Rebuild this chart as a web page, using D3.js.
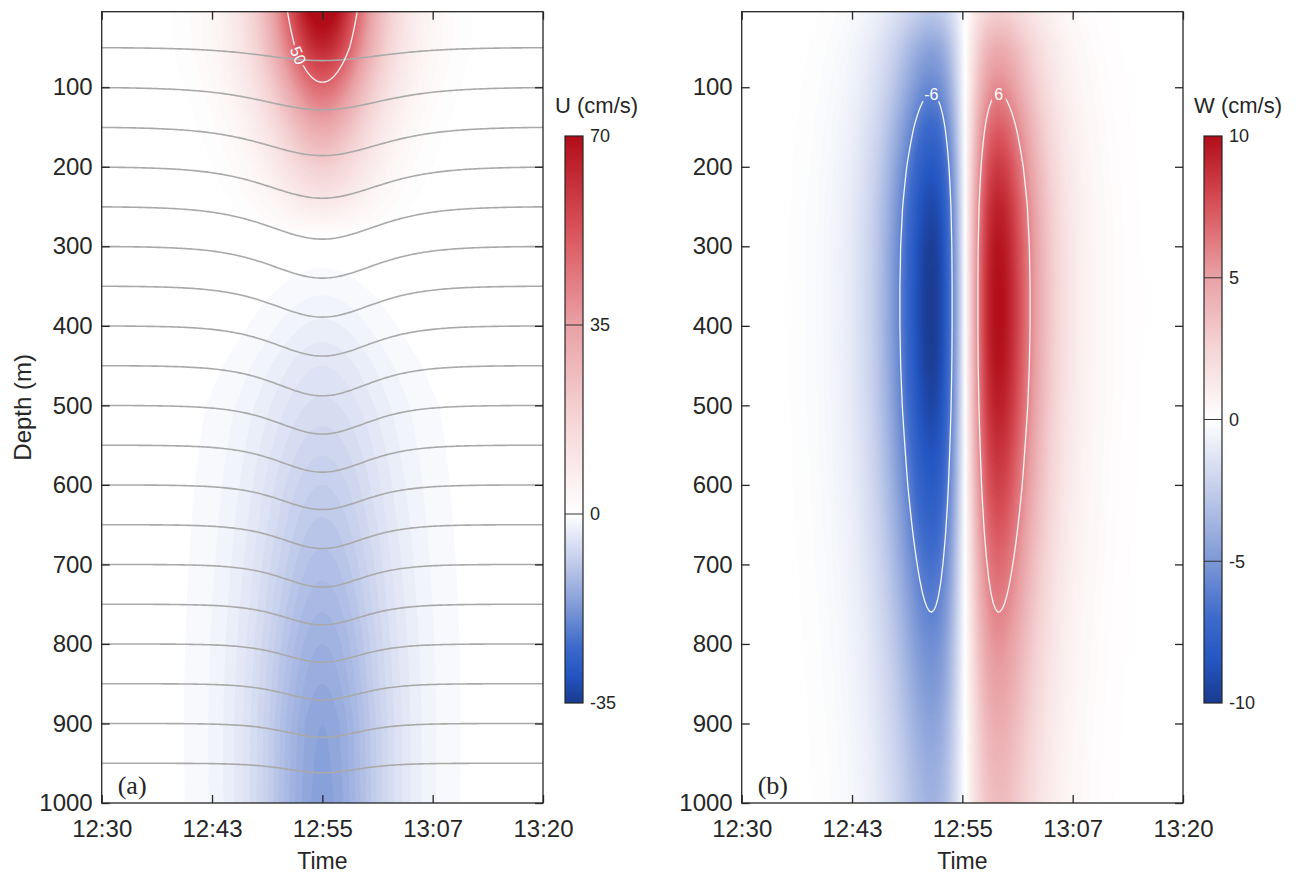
<!DOCTYPE html>
<html>
<head>
<meta charset="utf-8">
<script src="https://cdn.jsdelivr.net/npm/d3@7"></script>
<style>
  body { margin: 0; background: #fff; }
  svg { font-family: "Liberation Sans", Arial, sans-serif; }
  svg text { fill: #262626; }
</style>
</head>
<body>
<svg id="chart" width="1296" height="873"></svg>
<script>
// ---- data ----
// time is in minutes after 12:30
const timeTicks = [0, 12.5, 25, 37.5, 50]
const timeLabels = ["12:30", "12:43", "12:55", "13:07", "13:20"]
const depthTicks = [100, 200, 300, 400, 500, 600, 700, 800, 900, 1000]

// (a) horizontal velocity U: peak value at the wave centre and time half-width per depth
const uDepth = [5, 50, 100, 150, 200, 250, 290, 350, 400, 450, 500, 600, 700, 800, 900, 1000]
const uPeak  = [75, 64, 48, 33, 20, 9, 0, -1.6, -3.3, -5, -6.3, -9, -11.5, -14, -16, -16.5]
const uWidth = [6.0, 6.1, 6.0, 5.8, 5.7, 5.7, 6.5, 6.5, 7, 7.8, 8.4, 8.2, 8, 7.8, 7.6, 7.5]
const uCenter = 25
const uBarTicks = [-35, 0, 35, 70]

// (b) vertical velocity W: peak magnitude per depth
const wDepth = [5, 50, 100, 150, 200, 250, 300, 350, 400, 450, 500, 550, 600, 650, 700, 760, 800, 850, 900, 950, 1000]
const wPeak  = [2.8, 4.5, 5.8, 7.2, 8.4, 9.3, 9.8, 10, 10, 9.8, 9.4, 8.8, 8.2, 7.5, 6.8, 6, 5.5, 5, 4.5, 4.1, 3.8]
const wWidth = 5.8
const wCenter = 25.3
const wBarTicks = [-10, -5, 0, 5, 10]

// isopycnal lines: rest depth, largest downward shift (m), time half-width (min)
const isoDepth = [50, 100, 150, 200, 250, 300, 350, 400, 450, 500, 550, 600, 650, 700, 750, 800, 850, 900, 950]
const isoDrop  = [16.5, 28.5, 36, 39.5, 41, 40, 39, 38, 38, 36, 34, 31, 30, 28.5, 26, 23, 20.5, 17.5, 12]
const isoWidth = [9, 9, 8.8, 8.5, 8.2, 7.8, 7.5, 7.2, 7, 6.8, 6.6, 6.4, 6.2, 6, 6, 5.8, 5.7, 5.6, 5.5]

// ---- colours ----
const cmapPos = [-1, -0.85, -0.7, -0.5, -0.25, 0, 0.25, 0.5, 0.75, 1]
const cmapCol = ["#1a3a8f", "#2456c2", "#3d6acb", "#7d98d6", "#c3cdeb", "#ffffff", "#f5d5d6", "#e9a1a5", "#d9535b", "#b10d18"]
const cmap = d3.scaleLinear().domain(cmapPos).range(cmapCol).clamp(true)
const uColor = v => cmap(v > 0 ? v / 70 : v / 35)
const wColor = v => cmap(v / 10)

// ---- fields ----
const sech2 = x => { const c = Math.cosh(x); return 1 / (c * c) }
const uAmp = d3.scaleLinear().domain(uDepth).range(uPeak).clamp(true)
const uL = d3.scaleLinear().domain(uDepth).range(uWidth).clamp(true)
const uField = (t, z) => uAmp(z) * sech2((t - uCenter) / uL(z))
const wAmp = d3.scaleLinear().domain(wDepth).range(wPeak).clamp(true)
const wNorm = 2 / (3 * Math.sqrt(3))
const wField = (t, z) => { const x = (t - wCenter) / wWidth; return wAmp(z) * sech2(x) * Math.tanh(x) / wNorm }

const svg = d3.select("#chart")
const defs = svg.append("defs")
const plotTop = 11.7, plotBottom = 803
const ink = "#262626"

const panels = [
  {name: "a", left: 101.7, right: 543, field: uField, color: uColor, step: 1, max: 78,
   bar: {x: 565, lo: -35, hi: 70, ticks: uBarTicks, title: "U (cm/s)"}},
  {name: "b", left: 741.7, right: 1183, field: wField, color: wColor, step: 0.1, max: 11,
   bar: {x: 1204, lo: -10, hi: 10, ticks: wBarTicks, title: "W (cm/s)"}}
]

panels.forEach(p => {
  const x = d3.scaleLinear().domain([0, 50]).range([p.left, p.right])
  const y = d3.scaleLinear().domain([5, 1000]).range([plotTop, plotBottom])
  p.x = x; p.y = y

  defs.append("clipPath").attr("id", "clip-" + p.name)
    .append("rect").attr("x", p.left).attr("y", plotTop)
    .attr("width", p.right - p.left).attr("height", plotBottom - plotTop)

  const g = svg.append("g").attr("clip-path", "url(#clip-" + p.name + ")")

  // sample the field on a grid larger than the plot
  const nx = 240, ny = 320
  const tMin = -6, tMax = 56, zMin = -30, zMax = 1030
  const dt = (tMax - tMin) / (nx - 1), dz = (zMax - zMin) / (ny - 1)
  const vals = new Array(nx * ny)
  for (let j = 0; j < ny; j++) {
    for (let i = 0; i < nx; i++) {
      vals[i + j * nx] = p.field(tMin + i * dt, zMin + j * dz)
    }
  }
  const proj = d3.geoTransform({
    point(a, b) { this.stream.point(x(tMin + (a - 0.5) * dt), y(zMin + (b - 0.5) * dz)) }
  })
  const path = d3.geoPath(proj)
  p.vals = vals; p.path = path; p.nx = nx; p.ny = ny

  const th = d3.range(p.step, p.max, p.step)
  const pos = vals.map(v => Math.max(v, 0))
  const neg = vals.map(v => Math.max(-v, 0))
  const contours = d3.contours().size([nx, ny]).thresholds(th)

  g.selectAll("path.pos").data(contours(pos)).enter().append("path")
    .attr("class", "pos")
    .attr("d", path)
    .attr("fill", d => p.color(d.value))
  g.selectAll("path.neg").data(contours(neg)).enter().append("path")
    .attr("class", "neg")
    .attr("d", path)
    .attr("fill", d => p.color(-d.value))

  p.g = g
})

// ---- panel (a): isopycnals, 50 contour ----
const pa = panels[0]
const isoLine = d3.line().x(d => pa.x(d[0])).y(d => pa.y(d[1]))
const tSamples = d3.range(0, 50.01, 0.25)
pa.g.selectAll("path.iso").data(isoDepth).enter().append("path")
  .attr("class", "iso")
  .attr("d", (d, i) => isoLine(tSamples.map(t => [t, d + isoDrop[i] * sech2((t - uCenter) / isoWidth[i])])))
  .attr("fill", "none")
  .attr("stroke", "#a9a9a9")
  .attr("stroke-width", 1.6)

function addMask(id, boxes) {
  const m = defs.append("mask").attr("id", id).attr("maskUnits", "userSpaceOnUse")
    .attr("x", 0).attr("y", 0).attr("width", 1296).attr("height", 873)
  m.append("rect").attr("width", 1296).attr("height", 873).attr("fill", "#fff")
  boxes.forEach(b => {
    m.append("rect").attr("x", -b.w / 2).attr("y", -b.h / 2).attr("width", b.w).attr("height", b.h)
      .attr("fill", "#000")
      .attr("transform", `translate(${b.cx},${b.cy}) rotate(${b.angle})`)
  })
}

// place "50" on the left branch of the contour
function uLeftT(z, level) {
  const a = uAmp(z)
  return uCenter - Math.acosh(Math.sqrt(a / level)) * uL(z)
}
const labZ = 60
const pA = [pa.x(uLeftT(labZ - 6, 50)), pa.y(labZ - 6)]
const pB = [pa.x(uLeftT(labZ + 6, 50)), pa.y(labZ + 6)]
const lab50 = {cx: pa.x(uLeftT(labZ, 50)), cy: pa.y(labZ),
  angle: Math.atan2(pB[1] - pA[1], pB[0] - pA[0]) * 180 / Math.PI, w: 22, h: 14}
addMask("mask-a", [lab50])

const c50 = d3.contours().size([pa.nx, pa.ny]).thresholds([50])(pa.vals)
pa.g.append("path").datum(c50[0])
  .attr("d", pa.path)
  .attr("fill", "none")
  .attr("stroke", "#f4f4f4")
  .attr("stroke-width", 1.3)
  .attr("mask", "url(#mask-a)")
pa.g.append("text")
  .attr("transform", `translate(${lab50.cx},${lab50.cy}) rotate(${lab50.angle})`)
  .attr("text-anchor", "middle").attr("dy", "0.35em")
  .style("font-size", "16px").style("fill", "#fff")
  .text("50")

// ---- panel (b): +-6 contours ----
const pb = panels[1]
let zTop = 5
while (wAmp(zTop) < 6 && zTop < 500) zTop += 0.5
const xPeak = wWidth * 0.6585
const labs6 = [
  {cx: pb.x(wCenter - xPeak), cy: pb.y(zTop) + 1, angle: 0, w: 20, h: 14, text: "-6"},
  {cx: pb.x(wCenter + xPeak), cy: pb.y(zTop) + 1, angle: 0, w: 14, h: 14, text: "6"}
]
addMask("mask-b", labs6)
const c6p = d3.contours().size([pb.nx, pb.ny]).thresholds([6])(pb.vals)
const c6n = d3.contours().size([pb.nx, pb.ny]).thresholds([6])(pb.vals.map(v => -v))
pb.g.selectAll("path.c6").data([c6p[0], c6n[0]]).enter().append("path")
  .attr("class", "c6")
  .attr("d", pb.path)
  .attr("fill", "none")
  .attr("stroke", "#f4f4f4")
  .attr("stroke-width", 1.3)
  .attr("mask", "url(#mask-b)")
pb.g.selectAll("text.l6").data(labs6).enter().append("text")
  .attr("class", "l6")
  .attr("x", d => d.cx).attr("y", d => d.cy)
  .attr("text-anchor", "middle").attr("dy", "0.35em")
  .style("font-size", "16px").style("fill", "#fff")
  .text(d => d.text)

// ---- axes, frames, colour bars ----
panels.forEach(p => {
  const ax = svg.append("g")
  const fmt = (d, i) => timeLabels[i]

  ax.append("g").attr("transform", `translate(0,${plotBottom})`)
    .call(d3.axisBottom(p.x).tickValues(timeTicks).tickFormat(fmt).tickSizeInner(-8).tickSizeOuter(0).tickPadding(17))
  ax.append("g").attr("transform", `translate(0,${plotTop})`)
    .call(d3.axisTop(p.x).tickValues(timeTicks).tickFormat("").tickSizeInner(-8).tickSizeOuter(0))
  ax.append("g").attr("transform", `translate(${p.left},0)`)
    .call(d3.axisLeft(p.y).tickValues(depthTicks).tickFormat(d3.format("d")).tickSizeInner(-8).tickSizeOuter(0).tickPadding(9))
  ax.append("g").attr("transform", `translate(${p.right},0)`)
    .call(d3.axisRight(p.y).tickValues(depthTicks).tickFormat("").tickSizeInner(-8).tickSizeOuter(0))

  ax.selectAll(".domain").remove()
  ax.selectAll(".tick line").attr("stroke", ink).attr("stroke-width", 1.3)
  ax.selectAll(".tick text").attr("fill", ink).style("font-size", "24px")
    .style("font-family", '"Liberation Sans", Arial, sans-serif')

  ax.append("rect")
    .attr("x", p.left).attr("y", plotTop)
    .attr("width", p.right - p.left).attr("height", plotBottom - plotTop)
    .attr("fill", "none").attr("stroke", ink).attr("stroke-width", 1.3)

  ax.append("text")
    .attr("x", (p.left + p.right) / 2).attr("y", 869)
    .attr("text-anchor", "middle")
    .style("font-size", "23px")
    .text("Time")

  ax.append("text")
    .attr("x", p.left + 16).attr("y", 794)
    .style("font-family", '"Liberation Serif", "Times New Roman", serif')
    .style("font-size", "26px")
    .text("(" + p.name + ")")

  // colour bar
  const b = p.bar
  const barW = 18, barTop = 136, barBottom = 703
  const by = d3.scaleLinear().domain([b.lo, b.hi]).range([barBottom, barTop])
  const gradId = "grad-" + p.name
  const grad = defs.append("linearGradient").attr("id", gradId)
    .attr("x1", 0).attr("y1", 1).attr("x2", 0).attr("y2", 0)
  d3.range(0, 1.0001, 0.01).forEach(f => {
    const v = b.lo + f * (b.hi - b.lo)
    grad.append("stop").attr("offset", f).attr("stop-color", p.color(v))
  })
  const cb = svg.append("g")
  cb.append("rect").attr("x", b.x).attr("y", barTop).attr("width", barW).attr("height", barBottom - barTop)
    .attr("fill", `url(#${gradId})`)
  cb.selectAll("line.bt").data(b.ticks.filter(t => t > b.lo && t < b.hi)).enter().append("line")
    .attr("class", "bt")
    .attr("x1", b.x).attr("x2", b.x + barW)
    .attr("y1", d => by(d)).attr("y2", d => by(d))
    .attr("stroke", "#333").attr("stroke-width", 1)
  cb.append("rect").attr("x", b.x).attr("y", barTop).attr("width", barW).attr("height", barBottom - barTop)
    .attr("fill", "none").attr("stroke", ink).attr("stroke-width", 1.2)
  cb.selectAll("text.bl").data(b.ticks).enter().append("text")
    .attr("class", "bl")
    .attr("x", b.x + barW + 7).attr("y", d => by(d)).attr("dy", "0.35em")
    .style("font-size", "18px")
    .text(d => d)
  cb.append("text")
    .attr("x", b.x - 10).attr("y", 113)
    .style("font-size", "22px")
    .text(b.title)
})

svg.append("text")
  .attr("transform", `translate(31,${(plotTop + plotBottom) / 2}) rotate(-90)`)
  .attr("text-anchor", "middle")
  .style("font-size", "24px")
  .text("Depth (m)")
</script>
</body>
</html>
